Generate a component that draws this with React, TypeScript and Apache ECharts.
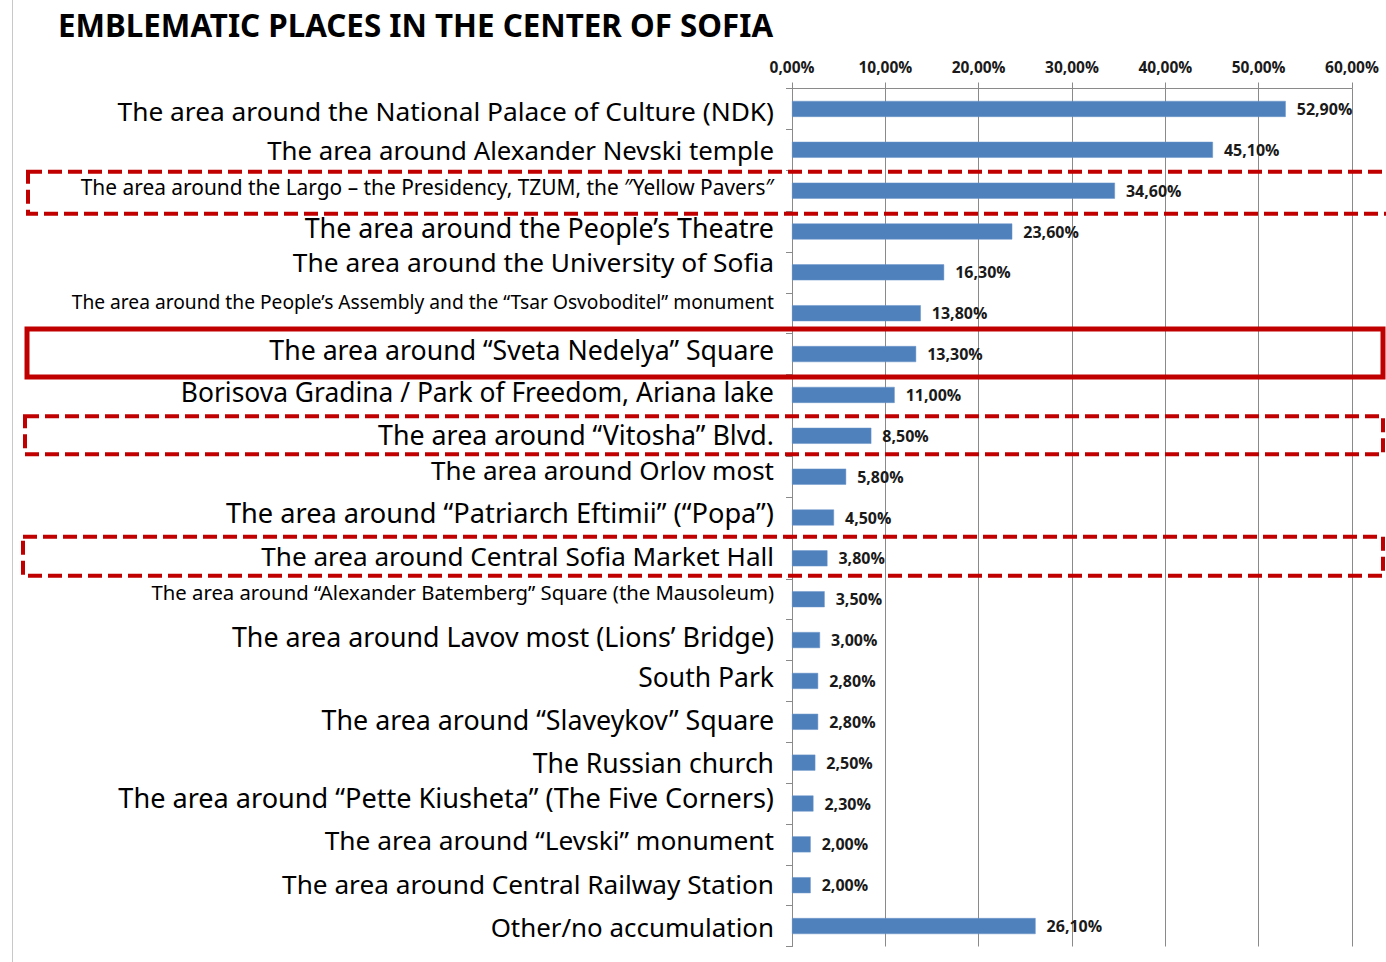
import React, { useEffect, useRef } from "react";
import * as echarts from "echarts";

const categories: string[] = [
  "The area around the National Palace of Culture (NDK)",
  "The area around Alexander Nevski temple",
  "The area around the Largo – the Presidency, TZUM, the ″Yellow Pavers″",
  "The area around the People’s Theatre",
  "The area around the University of Sofia",
  "The area around the People’s Assembly and the “Tsar Osvoboditel” monument",
  "The area around “Sveta Nedelya” Square",
  "Borisova Gradina / Park of Freedom, Ariana lake",
  "The area around “Vitosha” Blvd.",
  "The area around Orlov most",
  "The area around “Patriarch Eftimii” (“Popa”)",
  "The area around Central Sofia Market Hall",
  "The area around “Alexander Batemberg” Square (the Mausoleum)",
  "The area around Lavov most (Lions’ Bridge)",
  "South Park",
  "The area around “Slaveykov” Square",
  "The Russian church",
  "The area around “Pette Kiusheta” (The Five Corners)",
  "The area around “Levski” monument",
  "The area around Central Railway Station",
  "Other/no accumulation",
];

const values: number[] = [
  52.9, 45.1, 34.6, 23.6, 16.3, 13.8, 13.3, 11.0, 8.5, 5.8, 4.5, 3.8, 3.5, 3.0,
  2.8, 2.8, 2.5, 2.3, 2.0, 2.0, 26.1,
];

const xTicks: number[] = [0, 10, 20, 30, 40, 50, 60];

// styling: per-label font size and vertical shift (px, positive = up)
const labelFontSize: number[] = [
  26.3, 25.8, 20.9, 26.8, 26.3, 19.2, 26.7, 26.4, 26.8, 26.0, 27.2, 26.1, 20.3,
  26.8, 26.5, 26.8, 26.5, 27.1, 26.3, 26.2, 25.9,
];
const labelShiftUp: number[] = [
  -2, 0, 4, 4, 10, 12, 5, 3, 1, 7, 5, 2, 7, 4, 4, 2, 0, 6, 4, 1, -1,
];

// annotation boxes around highlighted rows
const boxes: { idx: number; dashed: boolean; h: number; dy: number; x0: number; x1: number; lw: number }[] = [
  { idx: 2, dashed: true, h: 42, dy: 2, x0: 28, x1: 1392, lw: 4 },
  { idx: 6, dashed: false, h: 48, dy: -1, x0: 27, x1: 1383, lw: 5 },
  { idx: 8, dashed: true, h: 38, dy: -0.5, x0: 25, x1: 1383, lw: 4 },
  { idx: 11, dashed: true, h: 39, dy: -2, x0: 23, x1: 1383, lw: 4 },
];

const fmtPct = (v: number) => v.toFixed(2).replace(".", ",") + "%";

const LABEL_FONT = "'Noto Sans', sans-serif";

export default function App() {
  const ref = useRef<HTMLDivElement>(null);
  useEffect(() => {
    document.body.style.margin = "0";
    const chart = echarts.init(ref.current!, null, { renderer: "svg" });
    const rich: Record<string, any> = {};
    categories.forEach((_, i) => {
      const s = labelShiftUp[i];
      rich["r" + i] = {
        fontSize: labelFontSize[i],
        fontFamily: LABEL_FONT,
        color: "#000",
        padding: s >= 0 ? [0, 0, 2 * s, 0] : [-2 * s, 0, 0, 0],
      };
    });
    chart.setOption({
      animation: false,
      backgroundColor: "#ffffff",
      title: {
        text: "EMBLEMATIC PLACES IN THE CENTER OF SOFIA",
        left: 53,
        top: 4,
        textStyle: {
          fontSize: 31.3,
          fontWeight: "bold",
          fontFamily: LABEL_FONT,
          color: "#000",
        },
      },
      grid: { left: 792, right: 34, top: 88.5, bottom: 15.5, containLabel: false },
      xAxis: {
        type: "value",
        position: "top",
        min: xTicks[0],
        max: xTicks[xTicks.length - 1],
        interval: 10,
        axisLine: { show: true, lineStyle: { color: "#8a8a8a", width: 1 } },
        axisTick: { show: true, length: 6, lineStyle: { color: "#8a8a8a" } },
        splitLine: { show: true, lineStyle: { color: "#8a8a8a", width: 1 } },
        axisLabel: {
          formatter: (v: number) => fmtPct(v),
          fontSize: 15.5,
          fontWeight: "bold",
          fontFamily: "'Open Sans', sans-serif",
          color: "#1a1a1a",
          margin: 14,
        },
      },
      yAxis: {
        type: "category",
        data: categories,
        inverse: true,
        axisLine: { show: true, lineStyle: { color: "#8a8a8a", width: 1 } },
        axisTick: { show: true, length: 6, lineStyle: { color: "#8a8a8a" } },
        axisLabel: {
          margin: 18,
          formatter: (v: string, i: number) => `{r${i}|${v}}`,
          rich,
        },
      },
      series: [
        {
          type: "bar",
          data: values,
          barWidth: 16,
          itemStyle: { color: "#4f81bd", borderColor: "#6b95c8", borderWidth: 0.5 },
          label: {
            show: true,
            position: "right",
            distance: 11,
            formatter: (p: any) => fmtPct(p.value),
            fontSize: 16,
            fontWeight: "bold",
            fontFamily: "'Open Sans', sans-serif",
            color: "#1a1a1a",
          },
        },
      ],
    });

    const graphics: any[] = [
      {
        type: "line",
        shape: { x1: 12.5, y1: 0, x2: 12.5, y2: 962 },
        style: { stroke: "#c8c8c8", lineWidth: 1 },
        silent: true,
      },
    ];
    boxes.forEach((b) => {
      const cy = chart.convertToPixel({ yAxisIndex: 0 }, b.idx) as number;
      graphics.push({
        type: "rect",
        shape: { x: b.x0, y: cy + b.dy - b.h / 2, width: b.x1 - b.x0, height: b.h },
        style: {
          fill: "none",
          stroke: "#c00000",
          lineWidth: b.lw,
          lineDash: b.dashed ? [14, 6] : null,
        },
        silent: true,
        z: 100,
      });
    });
    chart.setOption({ graphic: graphics });

    return () => chart.dispose();
  }, []);
  return <div ref={ref} style={{ width: 1386, height: 962 }} />;
}
